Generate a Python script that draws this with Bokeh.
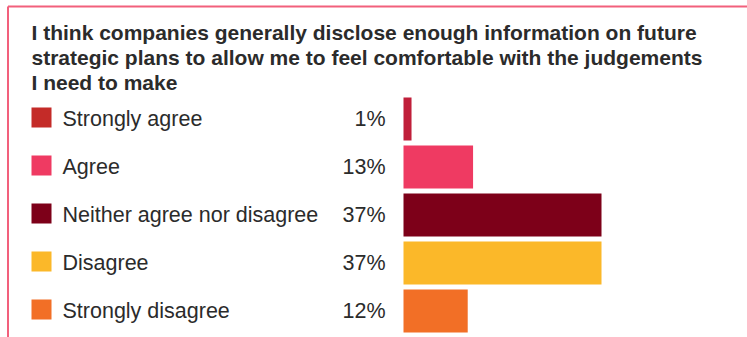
from bokeh.plotting import figure
from bokeh.models import Range1d, Label
from bokeh.core.properties import value
from bokeh.embed import file_html
from bokeh.resources import INLINE

# ---- data ----
title_lines = [
    "I think companies generally disclose enough information on future",
    "strategic plans to allow me to feel comfortable with the judgements",
    "I need to make",
]
categories = ["Strongly agree", "Agree", "Neither agree nor disagree", "Disagree", "Strongly disagree"]
bar_values = [1.5, 13, 37, 37, 12]
pct_labels = ["1%", "13%", "37%", "37%", "12%"]
bar_colors = ["#C01F3A", "#EF3A62", "#7D0019", "#FBB829", "#F26F26"]
swatch_colors = ["#C42B28", "#EF3A62", "#7D0019", "#FBB829", "#F26F26"]

# ---- layout ----
W, H = 747, 337
X0 = 403.0            # pixel where 0% sits
SCALE = 198.0 / 37.0  # pixels per percent
ROW0 = 118.5          # pixel centre of first row
PITCH = 48.0          # row pitch in pixels

def px_x(px):
    return (px - X0) / SCALE

def px_y(py):
    return (py - ROW0) / PITCH

FONT = "Liberation Sans"
TXT = "#2B2B2B"
BORDER = "#F2607C"

p = figure(width=W, height=H, output_backend="svg", toolbar_location=None,
           x_range=Range1d(px_x(0), px_x(W)), y_range=Range1d(px_y(H), px_y(0)),
           min_border=0, min_border_left=0, min_border_right=0,
           min_border_top=0, min_border_bottom=0)
p.axis.visible = False
p.grid.visible = False
p.outline_line_color = None
p.background_fill_color = "white"
p.border_fill_color = "white"

idx = list(range(len(categories)))

p.hbar(y=idx, left=0, right=bar_values, height=43.0 / PITCH, color=bar_colors, line_color=None)

p.rect(x=[px_x(41)] * len(idx), y=[i - 1.5 / PITCH for i in idx], width=20, height=20,
       width_units="screen", height_units="screen", color=swatch_colors, line_color=None)

p.text(x=[px_x(62)] * len(idx), y=[i - 0.5 / PITCH for i in idx], text=categories,
       text_baseline="middle", text_align="left", text_font=value(FONT),
       text_font_size="21.5px", text_color=TXT)

p.text(x=[px_x(385)] * len(idx), y=[i - 0.5 / PITCH for i in idx], text=pct_labels,
       text_baseline="middle", text_align="right", text_font=value(FONT),
       text_font_size="21.5px", text_color=TXT)

for k, line in enumerate(title_lines):
    p.add_layout(Label(x=31, y=H - (32 + 25 * k), x_units="screen", y_units="screen",
                       text=line, text_font=FONT, text_font_size="21px",
                       text_font_style="bold", text_color=TXT, text_baseline="alphabetic"))

# border lines (top and left)
p.line(x=[px_x(7.5), px_x(W)], y=[px_y(6), px_y(6)], line_color=BORDER, line_width=2)
p.line(x=[px_x(7.5), px_x(7.5)], y=[px_y(6), px_y(H)], line_color=BORDER, line_width=2)

open("out.html", "w").write(file_html(p, INLINE))
